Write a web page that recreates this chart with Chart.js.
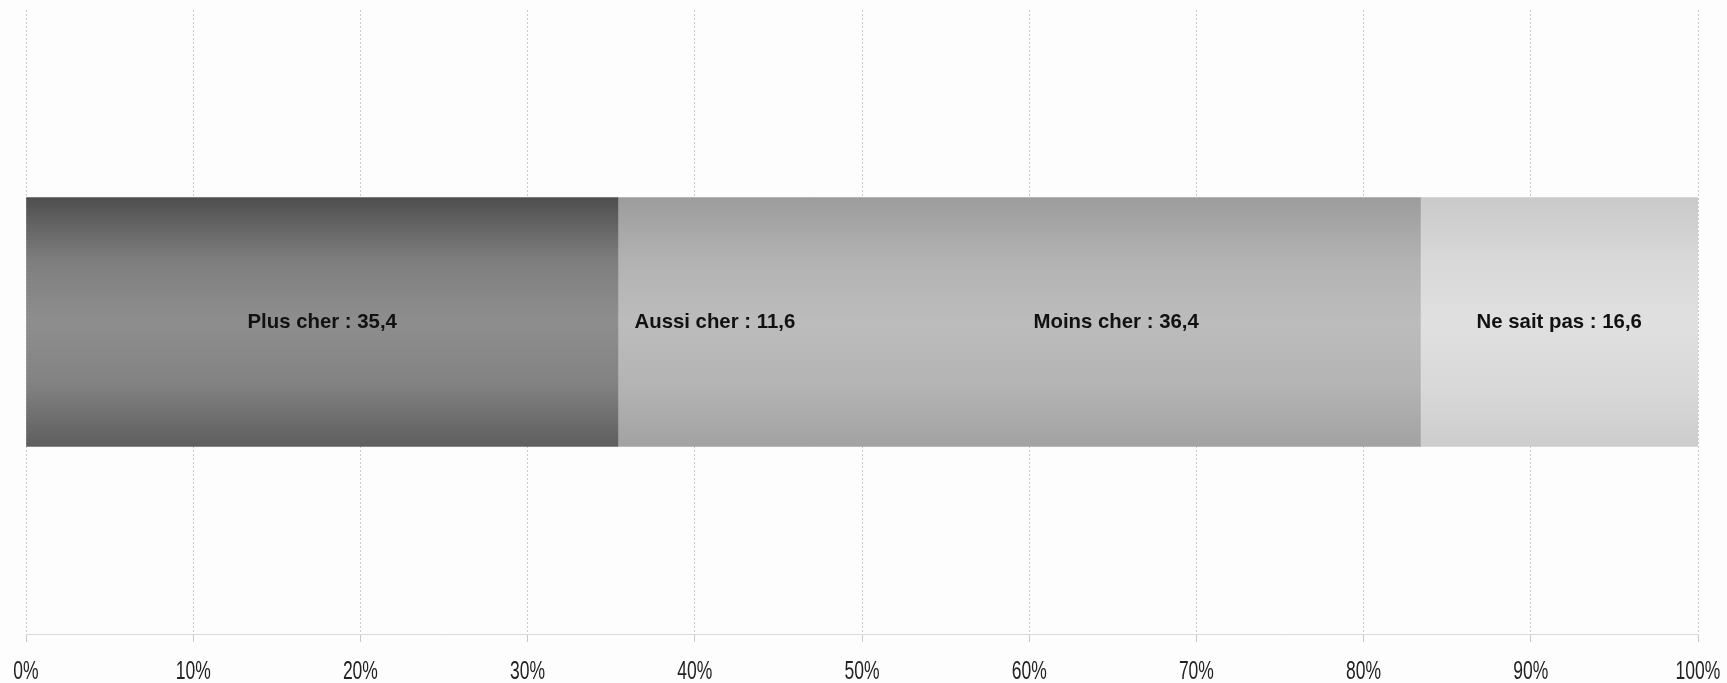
<!DOCTYPE html>
<html>
<head>
<meta charset="utf-8">
<script src="https://cdn.jsdelivr.net/npm/chart.js@4.4.0/dist/chart.umd.min.js"></script>
<style>
  html, body { margin: 0; padding: 0; background: #fdfdfd; }
  #wrap { width: 1727px; height: 683px; }
</style>
</head>
<body>
<div id="wrap"><canvas id="prixChart" width="1727" height="683"></canvas></div>
<script>
// données
const categories = ['Plus cher', 'Aussi cher', 'Moins cher', 'Ne sait pas'];
const values = [35.4, 11.6, 36.4, 16.6];
const tickValues = [0, 10, 20, 30, 40, 50, 60, 70, 80, 90, 100];

// dégradés gris (haut, quart, milieu, trois-quarts, bas)
const shades = [
    ['#4e4e4e', '#7e7e7e', '#8e8e8e', '#828282', '#5e5e5e'],
    ['#9c9c9c', '#b2b2b2', '#bcbcbc', '#b4b4b4', '#a2a2a2'],
    ['#9c9c9c', '#b2b2b2', '#bcbcbc', '#b4b4b4', '#a2a2a2'],
    ['#cacaca', '#d8d8d8', '#e0e0e0', '#d9d9d9', '#cdcdcd']
];

const BAR_H = 249;

function makeGradient(chart, i) {
    const area = chart.chartArea;
    if (!area) return shades[i][2];
    const mid = (area.top + area.bottom) / 2;
    const g = chart.ctx.createLinearGradient(0, mid - BAR_H / 2, 0, mid + BAR_H / 2);
    const stops = [0, 0.25, 0.5, 0.75, 1];
    stops.forEach(function(s, k) { g.addColorStop(s, shades[i][k]); });
    return g;
}

// texte condensé (imite l'Arial Narrow de l'original)
function narrowText(ctx, txt, x, y, sx) {
    ctx.save();
    ctx.translate(x, y);
    ctx.scale(sx, 1);
    ctx.fillText(txt, 0, 0);
    ctx.restore();
}

// étiquettes au centre de chaque segment + graduations de l'axe
const labelsPlugin = {
    id: 'labelsPlugin',
    afterDatasetsDraw(chart) {
        const ctx = chart.ctx;
        ctx.save();
        ctx.fillStyle = '#111';
        ctx.font = 'bold 21px "Liberation Sans", Arial, sans-serif';
        ctx.textAlign = 'center';
        ctx.textBaseline = 'middle';
        chart.data.datasets.forEach(function(ds, i) {
            const el = chart.getDatasetMeta(i).data[0];
            if (!el) return;
            const txt = categories[i] + ' : ' + values[i].toFixed(1).replace('.', ',');
            narrowText(ctx, txt, (el.x + el.base) / 2, el.y, 0.97);
        });

        const xs = chart.scales.x;
        ctx.fillStyle = '#222';
        ctx.font = '25px "Liberation Sans", Arial, sans-serif';
        tickValues.forEach(function(v) {
            narrowText(ctx, v + '%', xs.getPixelForValue(v), xs.top + 38, 0.7);
        });
        ctx.restore();
    }
};

document.addEventListener('DOMContentLoaded', function() {
    const ctx = document.getElementById('prixChart');
    new Chart(ctx.getContext('2d'), {
        type: 'bar',
        data: {
            labels: [''],
            datasets: categories.map(function(name, i) {
                return {
                    label: name,
                    data: [values[i]],
                    backgroundColor: function(c) { return makeGradient(c.chart, i); },
                    borderWidth: 0,
                    barThickness: BAR_H
                };
            })
        },
        options: {
            indexAxis: 'y',
            responsive: false,
            animation: false,
            layout: { padding: { top: 10, left: 26, right: 29, bottom: 0 } },
            plugins: {
                legend: { display: false },
                tooltip: { enabled: false }
            },
            scales: {
                x: {
                    stacked: true,
                    min: 0,
                    max: 100,
                    afterBuildTicks: function(scale) {
                        scale.ticks = tickValues.map(function(v) { return { value: v }; });
                    },
                    afterFit: function(scale) {
                        scale.height = 49;
                    },
                    ticks: { display: false },
                    grid: {
                        color: '#c9c9c9',
                        lineWidth: 1,
                        tickLength: 8
                    },
                    border: {
                        color: '#dadada',
                        dash: [2, 2]
                    }
                },
                y: {
                    stacked: true,
                    display: false
                }
            }
        },
        plugins: [labelsPlugin]
    });
});
</script>
</body>
</html>
